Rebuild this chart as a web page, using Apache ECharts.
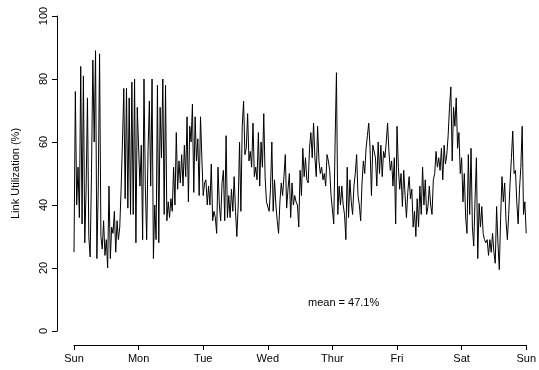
<!DOCTYPE html>
<html>
<head>
<meta charset="utf-8">
<script src="https://cdn.jsdelivr.net/npm/echarts@6/dist/echarts.min.js"></script>
<style>
  html, body { margin: 0; padding: 0; background: #fff; }
  #chart { width: 539px; height: 370px; }
</style>
</head>
<body>
<div id="chart"></div>
<script>
// x tick labels, one per day boundary
const dayLabels = ['Sun', 'Mon', 'Tue', 'Wed', 'Thur', 'Fri', 'Sat', 'Sun']
const samplesPerDay = 48

// link utilization (%), 30 min samples, one array per day
const sunVals = [25, 76, 40, 52, 36, 84, 34, 81, 28, 45, 74, 30, 23.5, 50, 86, 60,
  89, 23, 45, 88, 30, 26, 35, 24, 29, 20, 46, 23, 33, 31, 38, 25,
  35, 29, 33, 45, 60, 77, 42, 77, 39, 74, 37, 79, 37, 80, 28, 71]
const monVals = [71, 46, 59, 29, 80, 46, 29, 57, 73, 46, 80, 23, 40, 29, 78, 28,
  71, 55, 80, 37, 78, 35, 41, 36, 42, 38, 52, 40, 63, 45, 54, 47,
  56, 46, 59, 49, 68, 41, 65, 60, 72, 44, 68, 54, 61, 43, 68, 55]
const tueVals = [43, 47, 48, 40, 46, 40, 53, 35, 38, 36, 31, 52, 40, 35, 47, 51,
  35, 62, 36, 43, 36, 45, 38, 49, 38, 30, 40, 60, 38, 65, 73, 56,
  58, 69, 54, 57, 52, 66, 49, 52, 48, 63, 46, 60, 52, 69, 49, 41]
const wedVals = [41, 38, 45, 60, 38, 48, 40, 35, 31, 41, 47, 43, 49, 56, 39, 45,
  50, 36, 47, 40, 43, 41, 40, 33, 51, 43, 58, 49, 55, 48, 47, 58,
  63, 55, 66, 55, 49, 65, 54, 50, 52, 48, 50, 46, 56, 54, 51, 43]
const thuVals = [43, 34, 60, 82, 37, 46, 40, 46, 40, 37, 29, 52, 36, 48, 41, 37,
  46, 50, 56, 43, 40, 35, 47, 54, 50, 58, 62, 66, 58, 43, 59, 59,
  55, 46, 60, 50, 59, 49, 57, 55, 60, 66, 57, 51, 54, 46, 55, 34]
const friVals = [65, 52, 45, 50, 39.5, 51, 43, 36, 44, 49, 42, 45, 33, 38, 30, 42,
  33, 46, 37, 52, 40, 48, 37, 39.5, 46, 40, 37, 48, 50, 57, 52, 55,
  51, 58, 48, 59, 53, 56, 62, 71, 77.5, 54, 71, 65, 74, 58, 63, 50]
const satVals = [55, 41, 50, 36, 31, 56, 37, 58, 33, 27, 42, 55, 23, 40.5, 33, 39.5,
  31, 29, 28, 29, 24, 29, 25, 31, 25, 21.5, 39.5, 28, 19.5, 36, 49, 41,
  47, 35, 29, 37, 47, 55, 63.5, 50, 51, 41, 34, 45, 52, 65, 37, 41]
const lastVal = 31

const meanLabel = 'mean = 47.1%'

const weekVals = [sunVals, monVals, tueVals, wedVals, thuVals, friVals, satVals]
const seriesData = []
weekVals.forEach((vals, d) => {
  vals.forEach((v, i) => {
    seriesData.push([d + i / samplesPerDay, v])
  })
})
seriesData.push([weekVals.length, lastVal])

const chart = echarts.init(document.getElementById('chart'))

const textFont = {
  fontFamily: 'Liberation Sans, Arial, sans-serif',
  fontSize: 11,
  color: '#000',
}

const option = {
  animation: false,
  backgroundColor: '#fff',
  grid: {
    left: 74,
    right: 9,
    top: 16,
    bottom: 39,
  },
  xAxis: {
    type: 'value',
    min: 0,
    max: 7,
    interval: 1,
    offset: 14,
    axisLine: { show: true, onZero: false, lineStyle: { color: '#000', width: 1 } },
    axisTick: { show: true, inside: false, length: 5, lineStyle: { color: '#000' } },
    axisLabel: {
      ...textFont,
      margin: 8,
      showMinLabel: true,
      showMaxLabel: true,
      formatter: (v) => dayLabels[Math.round(v)],
    },
    splitLine: { show: false },
  },
  yAxis: {
    type: 'value',
    min: 0,
    max: 100,
    interval: 20,
    offset: 17,
    name: 'Link Utilization (%)',
    nameLocation: 'middle',
    nameRotate: 90,
    nameGap: 36,
    nameTextStyle: { ...textFont },
    axisLine: { show: true, onZero: false, lineStyle: { color: '#000', width: 1 } },
    axisTick: { show: true, inside: false, length: 5, lineStyle: { color: '#000' } },
    axisLabel: {
      ...textFont,
      rotate: 90,
      margin: 8,
    },
    splitLine: { show: false },
  },
  graphic: [
    {
      type: 'text',
      left: 308,
      top: 297,
      style: {
        text: meanLabel,
        font: '11px "Liberation Sans", Arial, sans-serif',
        fill: '#000',
      },
    },
  ],
  series: [
    {
      type: 'line',
      data: seriesData,
      showSymbol: false,
      symbol: 'none',
      lineStyle: { color: '#000', width: 1 },
      silent: true,
    },
  ],
}

chart.setOption(option)
</script>
</body>
</html>
